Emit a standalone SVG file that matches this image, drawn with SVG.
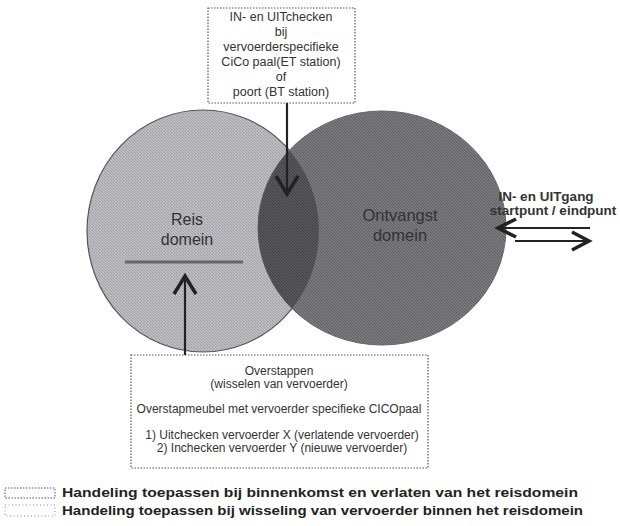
<svg xmlns="http://www.w3.org/2000/svg" width="620" height="526" viewBox="0 0 620 526">
  <defs>
    <clipPath id="clipLeft">
      <ellipse cx="203" cy="231" rx="116" ry="121"/>
    </clipPath>
    <pattern id="ditherLight" width="3" height="3" patternUnits="userSpaceOnUse">
      <rect width="3" height="3" fill="#bdbdc2"/>
      <rect x="0" y="0" width="1" height="1" fill="#9c9ca2"/>
      <rect x="1" y="1" width="1" height="1" fill="#a6a6ac"/>
      <rect x="2" y="2" width="1" height="1" fill="#9c9ca2"/>
    </pattern>
    <pattern id="ditherDark" width="3" height="3" patternUnits="userSpaceOnUse">
      <rect width="3" height="3" fill="#7a7a7f"/>
      <rect x="0" y="0" width="1" height="1" fill="#5c5c61"/>
      <rect x="1" y="1" width="1" height="1" fill="#606065"/>
      <rect x="2" y="2" width="1" height="1" fill="#5c5c61"/>
    </pattern>
    <pattern id="ditherLens" width="3" height="3" patternUnits="userSpaceOnUse">
      <rect width="3" height="3" fill="#57575c"/>
      <rect x="0" y="0" width="1" height="1" fill="#3e3e43"/>
      <rect x="1" y="1" width="1" height="1" fill="#444449"/>
      <rect x="2" y="2" width="1" height="1" fill="#3e3e43"/>
    </pattern>
    <style>
      .txt { font-family: "Liberation Sans", Arial, sans-serif; fill: #333; }
      .box { fill: #fff; stroke: #555; stroke-width: 1.2; stroke-dasharray: 1.5 1.5; }
      .conn { stroke: #222; stroke-width: 2.2; fill: none; }
      .head { stroke: #222; stroke-width: 3.5; fill: none; stroke-linejoin: miter; stroke-linecap: butt; }
      .topt { font-size: 12.5px; }
      .bott { font-size: 12px; }
      .legend { font-size: 13px; font-weight: bold; fill: #222; }
    </style>
  </defs>
  <rect width="620" height="526" fill="#fff"/>

  <g id="node-reis-domein">
    <ellipse cx="203" cy="231" rx="116" ry="121" fill="url(#ditherLight)" stroke="#555" stroke-width="1.2"/>
    <text class="txt" x="187" y="225" font-size="16" text-anchor="middle" fill="#444">Reis</text>
    <text class="txt" x="187" y="245" font-size="16" text-anchor="middle" fill="#444">domein</text>
    <line x1="125" y1="262" x2="243" y2="262" stroke="#666" stroke-width="3"/>
  </g>

  <g id="node-ontvangst-domein">
    <ellipse cx="382" cy="228" rx="124" ry="117" fill="url(#ditherDark)" stroke="#666" stroke-width="1"/>
    <ellipse cx="382" cy="228" rx="124" ry="117" fill="url(#ditherLens)" clip-path="url(#clipLeft)"/>
    <text class="txt" x="400" y="221" font-size="16.5" text-anchor="middle" fill="#e2e2e2">Ontvangst</text>
    <text class="txt" x="400" y="241" font-size="16.5" text-anchor="middle" fill="#e2e2e2">domein</text>
  </g>

  <g id="node-checkin-box">
    <rect class="box" x="208" y="8" width="147" height="95"/>
    <text class="txt topt" x="281" y="21" text-anchor="middle">IN- en UITchecken</text>
    <text class="txt topt" x="281" y="36" text-anchor="middle">bij</text>
    <text class="txt topt" x="281" y="51" text-anchor="middle">vervoerderspecifieke</text>
    <text class="txt topt" x="281" y="66" text-anchor="middle">CiCo paal(ET station)</text>
    <text class="txt topt" x="281" y="81" text-anchor="middle">of</text>
    <text class="txt topt" x="281" y="96" text-anchor="middle">poort (BT station)</text>
  </g>

  <g id="node-overstappen-box">
    <rect class="box" x="131" y="355" width="297" height="113"/>
    <text class="txt bott" x="279" y="375" text-anchor="middle">Overstappen</text>
    <text class="txt bott" x="279" y="388" text-anchor="middle">(wisselen van vervoerder)</text>
    <text class="txt bott" x="279" y="413" text-anchor="middle">Overstapmeubel met vervoerder specifieke CICOpaal</text>
    <text class="txt bott" x="282" y="439" text-anchor="middle">1) Uitchecken vervoerder X (verlatende vervoerder)</text>
    <text class="txt bott" x="282" y="452" text-anchor="middle">2) Inchecken vervoerder Y (nieuwe vervoerder)</text>
  </g>

  <g id="node-ingang-label">
    <text class="txt" x="546" y="201" font-size="13.5" font-weight="bold" text-anchor="middle" fill="#222">IN- en UITgang</text>
    <text class="txt" x="553" y="215" font-size="13.5" font-weight="bold" text-anchor="middle" fill="#222">startpunt / eindpunt</text>
  </g>

  <g id="connectors">
    <line class="conn" x1="287" y1="103" x2="287" y2="193"/>
    <polyline class="head" points="276,176 287,194 298,176"/>
    <line class="conn" x1="185" y1="355" x2="185" y2="277"/>
    <polyline class="head" points="174,294 185,276 196,294"/>
    <line class="conn" x1="590" y1="228" x2="499" y2="228"/>
    <polyline class="head" points="516,219 498,228 516,237"/>
    <line class="conn" x1="515" y1="241" x2="588" y2="241"/>
    <polyline class="head" points="572,232 589,241 572,250"/>
  </g>

  <g id="legend">
    <rect x="5" y="488" width="50" height="10" fill="#fff" stroke="#555" stroke-width="1" stroke-dasharray="1.5 1.5"/>
    <text class="txt legend" x="62" y="497" textLength="516" lengthAdjust="spacingAndGlyphs">Handeling toepassen bij binnenkomst en verlaten van het reisdomein</text>
    <rect x="5" y="505" width="50" height="11" fill="#fff" stroke="#888" stroke-width="1" stroke-dasharray="1 2.5"/>
    <text class="txt legend" x="62" y="515" textLength="521" lengthAdjust="spacingAndGlyphs">Handeling toepassen bij wisseling van vervoerder binnen het reisdomein</text>
  </g>
</svg>
